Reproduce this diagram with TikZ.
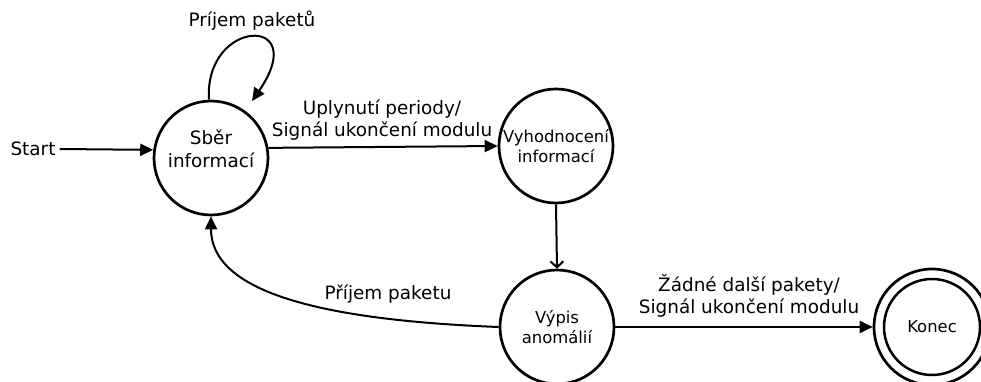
\documentclass[tikz,border=0pt]{standalone}
\usepackage{fontspec}
\setmainfont{DejaVu Sans}
\usetikzlibrary{arrows.meta,calc}
\begin{document}
\begin{tikzpicture}[x=1pt,y=-1pt,
  state/.style={circle,draw,line width=2.7pt,minimum size=114pt,inner sep=0pt,
    align=center,font=\fontsize{16.4}{20}\selectfont},
  bigtext/.style={font=\fontsize{18.4}{22.5}\selectfont},
  edge/.style={line width=2pt,-{Triangle[length=13pt,width=12pt]}},
  openedge/.style={line width=2pt,-{Straight Barb[length=6pt,width=13pt,line width=2pt]}},
  lbl/.style={bigtext,align=center,inner sep=0pt}]
\useasboundingbox (0,0) rectangle (981,382);

% states
\node[state,bigtext] (s) at (211,158) {Sběr\\informací\\[-4pt]};
\node[state] (v) at (556,146) {Vyhodnocení\\informací};
\node[state] (w) at (557,327) {Výpis\\anomálií};
\node[state,minimum size=116pt] (k) at (932,327) {Konec};
\node[circle,draw,line width=2.5pt,minimum size=96pt,inner sep=0pt] (kin) at (k.center) {};

% entry
\node[lbl] (start) at (33,149) {Start};
\draw[edge] (start.east) ++(4,0) coordinate (startend) -- (s.172);

% self loop
\coordinate (loopend) at (252,101);
\draw[edge] (s.92) .. controls (204,18) and (312,14) .. (loopend);
\node[lbl] (lloop) at (252,21) {Príjem paketů};

% transitions
\draw[edge] (s.10) -- (v.west);
\node[lbl] (l1) at (382,120) {Uplynutí periody/\\Signál ukončení modulu};

\draw[openedge] (v.south) -- (w.north);

\draw[edge] (w.west) .. controls (320,320) and (211,292) .. (s.south);
\node[lbl] (l2) at (388,294) {Příjem paketu};

\draw[edge] (w.east) -- (k.west);
\node[lbl] (l3) at (749,296) {Žádné další pakety/\\Signál ukončení modulu};
\end{tikzpicture}
\end{document}
